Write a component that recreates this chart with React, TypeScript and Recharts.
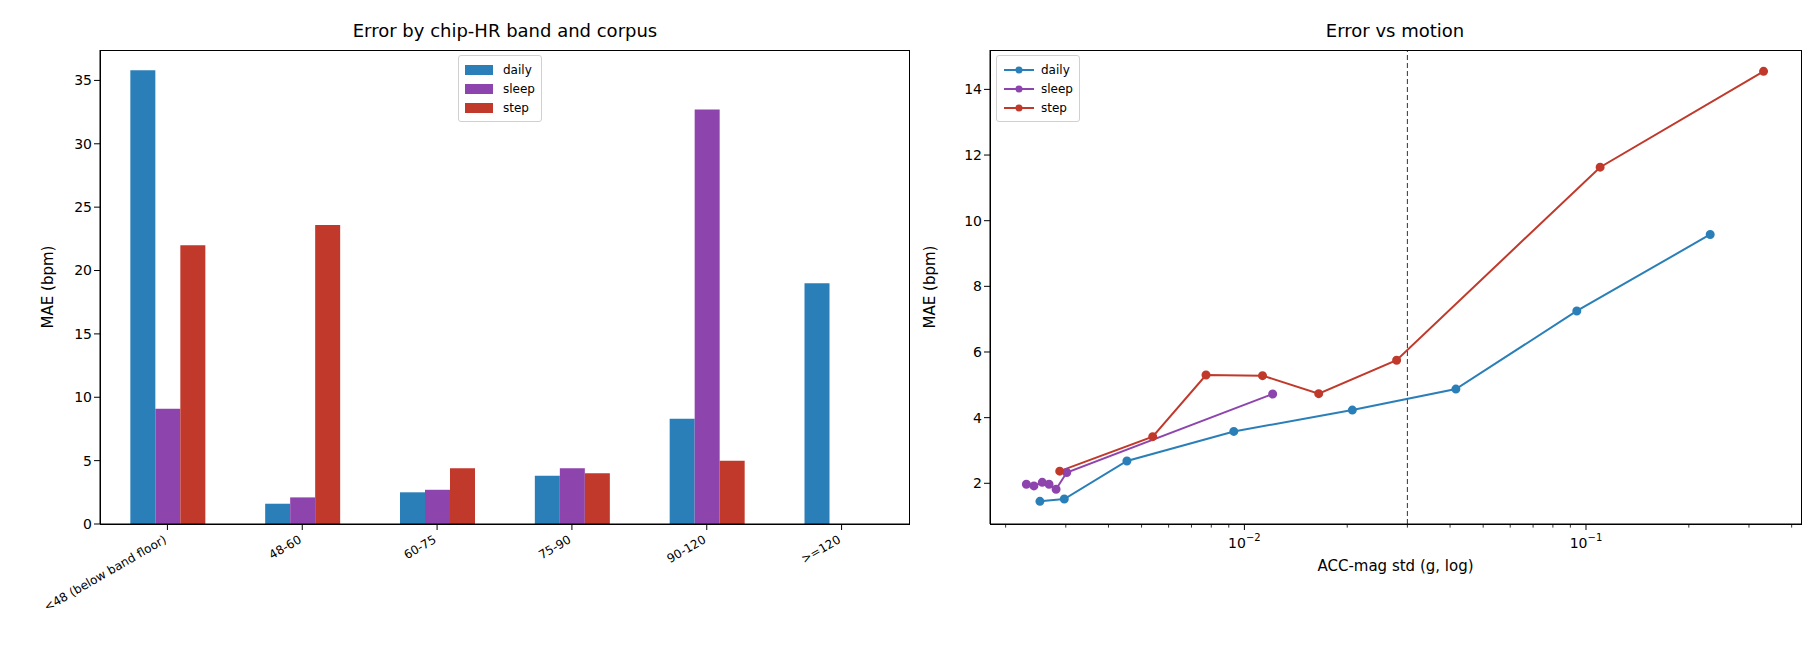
import React from 'react';
import {
  BarChart,
  Bar,
  LineChart,
  Line,
  XAxis,
  YAxis,
  ReferenceLine,
} from 'recharts';

const bands = ['<48 (below band floor)', '48-60', '60-75', '75-90', '90-120', '>=120'];
const dailyBand = [35.8, 1.6, 2.5, 3.8, 8.3, 19.0];
const sleepBand = [9.1, 2.1, 2.7, 4.4, 32.7, null];
const stepBand = [22.0, 23.6, 4.4, 4.0, 5.0, null];
const barTicks = [0, 5, 10, 15, 20, 25, 30, 35];

const dailyAcc = [0.00252, 0.00297, 0.00453, 0.00931, 0.0207, 0.0416, 0.094, 0.231];
const dailyMae = [1.45, 1.52, 2.68, 3.58, 4.23, 4.87, 7.25, 9.58];
const sleepAcc = [0.0023, 0.00242, 0.00256, 0.00268, 0.00281, 0.00302, 0.0121];
const sleepMae = [1.97, 1.92, 2.03, 1.97, 1.82, 2.33, 4.72];
const stepAcc = [0.00288, 0.00539, 0.00772, 0.0113, 0.0165, 0.0279, 0.11, 0.331];
const stepMae = [2.37, 3.42, 5.3, 5.28, 4.73, 5.75, 11.63, 14.55];
const motionCut = 0.03;
const lineTicks = [2, 4, 6, 8, 10, 12, 14];
const majorX = [0.01, 0.1];
const minorX = [0.002, 0.003, 0.004, 0.005, 0.006, 0.007, 0.008, 0.009, 0.02, 0.03, 0.04, 0.05, 0.06, 0.07, 0.08, 0.09, 0.2, 0.3, 0.4];

const BLUE = '#2a7fb8';
const PURPLE = '#8e44ad';
const RED = '#c0392b';
const FONT = 'DejaVu Sans, sans-serif';
const Y_MIN = 0.76;

const barRows = bands.map((b, i) => ({
  band: b,
  daily: dailyBand[i],
  sleep: sleepBand[i],
  step: stepBand[i],
}));
const toPts = (xs: number[], ys: number[]) => xs.map((x, i) => ({ x, y: ys[i] }));

const tickStyle = { fontSize: 14, fill: '#000', fontFamily: FONT };

const BandTick = ({ x, y, payload }: any) => (
  <text
    x={x}
    y={y + 10}
    transform={`rotate(-30 ${x} ${y + 10})`}
    textAnchor="end"
    fontSize={12}
    fontFamily={FONT}
    fill="#000"
  >
    {payload.value}
  </text>
);

const PowTick = ({ x, y, payload }: any) => (
  <text x={x} y={y + 16} textAnchor="middle" fontSize={14} fontFamily={FONT} fill="#000">
    10<tspan dy={-7} fontSize={10}>{`\u2212${Math.round(-Math.log10(payload.value))}`}</tspan>
  </text>
);

const LegendBox = ({ items, line, left }: { items: { name: string; color: string }[]; line: boolean; left: number }) => (
  <div
    style={{
      position: 'absolute',
      left,
      top: 55,
      background: '#fff',
      border: '1px solid #d0d0d0',
      borderRadius: 3,
      padding: '4px 6px',
      fontFamily: FONT,
      fontSize: 12,
    }}
  >
    {items.map((it) => (
      <div key={it.name} style={{ display: 'flex', alignItems: 'center', height: 19 }}>
        {line ? (
          <svg width={32} height={10} style={{ marginRight: 6 }}>
            <line x1={1} y1={5} x2={31} y2={5} stroke={it.color} strokeWidth={2} />
            <circle cx={16} cy={5} r={3.5} fill={it.color} />
          </svg>
        ) : (
          <span style={{ width: 28, height: 10, background: it.color, marginRight: 10 }} />
        )}
        {it.name}
      </div>
    ))}
  </div>
);

const legendItems = [
  { name: 'daily', color: BLUE },
  { name: 'sleep', color: PURPLE },
  { name: 'step', color: RED },
];

const frame = (left: number, top: number, w: number, h: number): React.CSSProperties => ({
  position: 'absolute',
  left,
  top,
  width: w,
  height: h,
  border: '1.2px solid #000',
  boxSizing: 'border-box',
  pointerEvents: 'none',
});

const title: React.CSSProperties = {
  position: 'absolute',
  top: 20,
  fontFamily: FONT,
  fontSize: 18,
  transform: 'translateX(-50%)',
  whiteSpace: 'nowrap',
};

export default function App() {
  return (
    <div style={{ position: 'relative', width: 1820, height: 650, margin: -8, background: '#fff', fontFamily: FONT }}>
      <div style={{ ...title, left: 505 }}>Error by chip-HR band and corpus</div>
      <div style={{ position: 'absolute', left: 0, top: 0 }}>
        <BarChart
          width={920}
          height={650}
          data={barRows}
          margin={{ top: 50, right: 11, left: 40, bottom: 26 }}
          barCategoryGap="22.5%"
          barGap={0}
        >
          <XAxis dataKey="band" tick={<BandTick />} interval={0} height={100} stroke="#000" tickLine={{ stroke: '#000' }} />
          <YAxis
            domain={[0, 37.4]}
            ticks={barTicks}
            width={60}
            tick={tickStyle}
            stroke="#000"
            label={{ value: 'MAE (bpm)', angle: -90, position: 'insideLeft', offset: 8, style: { fontSize: 15, fill: '#000', textAnchor: 'middle' } }}
          />
          <Bar dataKey="daily" fill={BLUE} isAnimationActive={false} />
          <Bar dataKey="sleep" fill={PURPLE} isAnimationActive={false} />
          <Bar dataKey="step" fill={RED} isAnimationActive={false} />
        </BarChart>
      </div>
      <div style={frame(100, 50, 810, 475)} />
      <LegendBox items={legendItems} line={false} left={458} />

      <div style={{ ...title, left: 1395 }}>Error vs motion</div>
      <div style={{ position: 'absolute', left: 920, top: 0 }}>
        <LineChart width={900} height={650} margin={{ top: 50, right: 19, left: 30, bottom: 26 }}>
          <XAxis
            type="number"
            dataKey="x"
            scale="log"
            domain={[0.0018, 0.426]}
            ticks={majorX}
            tick={<PowTick />}
            height={100}
            stroke="#000"
            allowDataOverflow
            label={{ value: 'ACC-mag std (g, log)', position: 'insideTop', offset: 36, style: { fontSize: 15, fill: '#000' } }}
          />
          <YAxis
            type="number"
            domain={[Y_MIN, 15.2]}
            ticks={lineTicks}
            width={40}
            tick={tickStyle}
            stroke="#000"
            allowDataOverflow
            label={{ value: 'MAE (bpm)', angle: -90, position: 'insideLeft', offset: -20, style: { fontSize: 15, fill: '#000', textAnchor: 'middle' } }}
          />
          {minorX.map((m) => (
            <ReferenceLine
              key={m}
              segment={[{ x: m, y: Y_MIN }, { x: m, y: Y_MIN - 0.11 }]}
              stroke="#000"
              strokeWidth={0.8}
              ifOverflow="visible"
            />
          ))}
          <ReferenceLine x={motionCut} stroke="#333" strokeDasharray="5 3" strokeWidth={1} />
          <Line data={toPts(dailyAcc, dailyMae)} dataKey="y" name="daily" stroke={BLUE} strokeWidth={2} dot={{ r: 3.5, fill: BLUE, stroke: BLUE }} isAnimationActive={false} />
          <Line data={toPts(sleepAcc, sleepMae)} dataKey="y" name="sleep" stroke={PURPLE} strokeWidth={2} dot={{ r: 3.5, fill: PURPLE, stroke: PURPLE }} isAnimationActive={false} />
          <Line data={toPts(stepAcc, stepMae)} dataKey="y" name="step" stroke={RED} strokeWidth={2} dot={{ r: 3.5, fill: RED, stroke: RED }} isAnimationActive={false} />
        </LineChart>
      </div>
      <div style={frame(990, 50, 812, 475)} />
      <LegendBox items={legendItems} line left={996} />
    </div>
  );
}
